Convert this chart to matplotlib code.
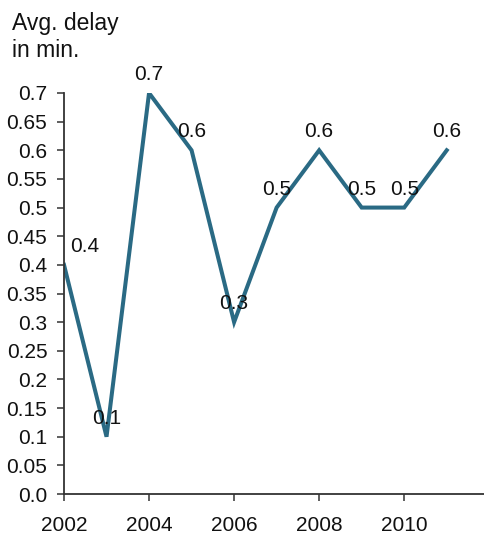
import matplotlib
matplotlib.use("Agg")
import matplotlib.pyplot as plt

plt.rcParams['font.family'] = ['Liberation Sans', 'DejaVu Sans']

# Average delay per year
years = [2002, 2003, 2004, 2005, 2006, 2007, 2008, 2009, 2010, 2011]
delay = [0.4, 0.1, 0.7, 0.6, 0.3, 0.5, 0.6, 0.5, 0.5, 0.6]

y_ticks = [0.0, 0.05, 0.1, 0.15, 0.2, 0.25, 0.3, 0.35, 0.4, 0.45, 0.5, 0.55, 0.6, 0.65, 0.7]
y_tick_labels = ["0.0", "0.05", "0.1", "0.15", "0.2", "0.25", "0.3", "0.35",
                 "0.4", "0.45", "0.5", "0.55", "0.6", "0.65", "0.7"]
x_ticks = [2002, 2004, 2006, 2008, 2010]
x_tick_labels = ["2002", "2004", "2006", "2008", "2010"]

line_color = "#2a6a84"
axis_color = "#333333"
text_color = "#111111"
fs = 15

fig = plt.figure(figsize=(4.85, 5.36), dpi=100)
ax = fig.add_axes([64 / 485, 42 / 536, 1 - 64 / 485, (494 - 93) / 536])

ax.plot(years, delay, color=line_color, linewidth=2.9, solid_joinstyle="miter")

for i, (x, y) in enumerate(zip(years, delay)):
    dx = 15 if i == 0 else 0
    ax.annotate(f"{y:g}", xy=(x, y), xytext=(dx, 9.3), textcoords="offset points",
                ha="center", va="baseline", fontsize=fs, color=text_color,
                annotation_clip=False)

ax.set_xlim(2002, 2011.9)
ax.set_ylim(0, 0.7)
ax.set_yticks(y_ticks)
ax.set_yticklabels(y_tick_labels)
ax.set_xticks(x_ticks)
ax.set_xticklabels(x_tick_labels)

for side in ("top", "right"):
    ax.spines[side].set_visible(False)
for side in ("left", "bottom"):
    ax.spines[side].set_color(axis_color)
    ax.spines[side].set_linewidth(1.3)

ax.tick_params(axis="y", direction="out", length=5, width=1.1, color=axis_color,
               pad=7, labelsize=fs, labelcolor=text_color)
ax.tick_params(axis="x", direction="out", length=5, width=1.1, color=axis_color,
               pad=11, labelsize=fs, labelcolor=text_color)

# Axis title, two lines placed by baseline
fig.text(12 / 485, 1 - 30 / 536, "Avg. delay", fontsize=16.5,
         ha="left", va="baseline", color=text_color)
fig.text(12 / 485, 1 - 57 / 536, "in min.", fontsize=16.5,
         ha="left", va="baseline", color=text_color)

fig.savefig("out.png", dpi=100)
